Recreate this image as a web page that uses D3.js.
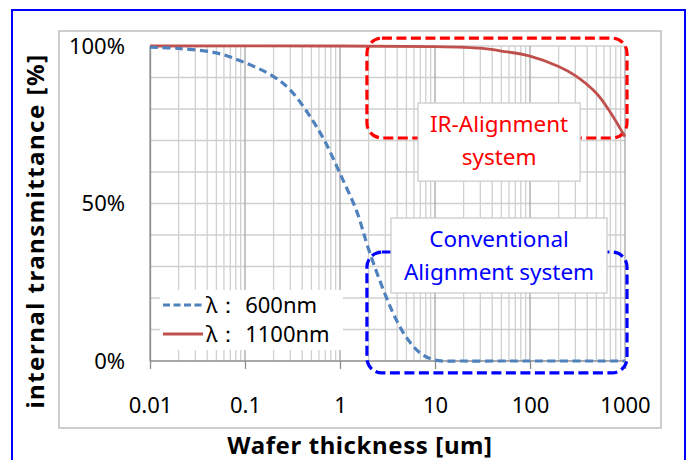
<!DOCTYPE html>
<html>
<head>
<meta charset="utf-8">
<script src="https://cdn.jsdelivr.net/npm/d3@7"></script>
<style>
  body { margin: 0; background: #fff; }
  svg text { font-family: "Noto Sans", "Open Sans", sans-serif; }
</style>
</head>
<body>
<div class="container"></div>
<script>
// data
var thickness600 = [0.01, 0.02, 0.05, 0.1, 0.2, 0.3, 0.5, 0.7, 1, 1.5, 2, 3, 4, 5, 7, 10, 20, 50, 100, 1000];
var trans600     = [99.6, 99.2, 97.8, 94.7, 90.3, 86, 77, 69.5, 59.5, 47.5, 35.5, 21, 12.5, 7.5, 2.5, 0.3, 0, 0, 0, 0];
var thickness1100 = [0.01, 1, 10, 20, 30, 50, 100, 200, 300, 500, 700, 1000];
var trans1100     = [100, 100, 99.8, 99.6, 99.3, 98.4, 96.8, 93.5, 90.6, 85, 79, 71.2];
var xTicks = [0.01, 0.1, 1, 10, 100, 1000];
var yTicks = [0, 50, 100];
var legendLabels = ["λ：  600nm", "λ：  1100nm"];

// margins / sizes
var width = 687, height = 460;
var plot = {left: 150, right: 625, top: 46, bottom: 361};

var x = d3.scaleLog().domain([0.01, 1000]).range([plot.left, plot.right]);
var y = d3.scaleLinear().domain([0, 100]).range([plot.bottom, plot.top]);

var svg = d3.select(".container").append("svg")
    .attr("width", width)
    .attr("height", height);

// outer blue frame and grey chart frame
svg.append("rect").attr("x", 12).attr("y", 10).attr("width", 673).attr("height", 470)
    .attr("fill", "#fff").attr("stroke", "#0000ff").attr("stroke-width", 2);
svg.append("rect").attr("x", 59).attr("y", 31).attr("width", 602).attr("height", 397)
    .attr("fill", "#fff").attr("stroke", "#bfbfbf").attr("stroke-width", 1.5);

// grid
var grid = svg.append("g").attr("class", "grid");
grid.selectAll(".hg").data(d3.range(10, 101, 10)).enter().append("line")
    .attr("x1", plot.left).attr("x2", plot.right)
    .attr("y1", function(d){ return y(d); }).attr("y2", function(d){ return y(d); })
    .attr("stroke", "#d0d0d0").attr("stroke-width", 1.3);
grid.selectAll(".vg").data(x.ticks()).enter().append("line")
    .attr("x1", function(d){ return x(d); }).attr("x2", function(d){ return x(d); })
    .attr("y1", plot.top).attr("y2", plot.bottom)
    .attr("stroke", function(d){ return xTicks.indexOf(+d.toPrecision(3)) >= 0 ? "#a6a6a6" : "#d0d0d0"; })
    .attr("stroke-width", 1.3);

// axes
var xAxis = d3.axisBottom(x).tickValues(xTicks).tickSize(8)
    .tickFormat(function(d){ return String(+d.toPrecision(3)); });
var gx = svg.append("g").attr("transform", "translate(0," + plot.bottom + ")").call(xAxis);
gx.select(".domain").attr("stroke", "#8c8c8c").attr("stroke-width", 1.3).attr("d", "M" + plot.left + ",0H" + plot.right);
gx.selectAll(".tick line").attr("stroke", "#8c8c8c").attr("stroke-width", 1.3);
gx.selectAll(".tick text").attr("y", 44).attr("dy", "0.35em")
    .style("font-size", "22px").attr("fill", "#000");

var yAxis = d3.axisLeft(y).tickValues(yTicks).tickSize(0)
    .tickFormat(function(d){ return d + "%"; });
var gy = svg.append("g").attr("transform", "translate(" + plot.left + ",0)").call(yAxis);
gy.select(".domain").attr("stroke", "#8c8c8c").attr("stroke-width", 1.3);
gy.selectAll(".tick text").attr("x", -25).style("font-size", "22px").attr("fill", "#000");

// dashed highlight boxes (in data units)
var hiBoxes = [
  {x0: 1.92, x1: 1050, y0: 102.5, y1: 70.8, color: "#ff0000"},
  {x0: 1.92, x1: 1050, y0: 34.6, y1: -3.8, color: "#0000ff"}
];
svg.selectAll(".hibox").data(hiBoxes).enter().append("rect")
    .attr("x", function(d){ return x(d.x0); })
    .attr("y", function(d){ return y(d.y0); })
    .attr("width", function(d){ return x(d.x1) - x(d.x0); })
    .attr("height", function(d){ return y(d.y1) - y(d.y0); })
    .attr("rx", 15).attr("ry", 15)
    .attr("fill", "none").attr("stroke", function(d){ return d.color; })
    .attr("stroke-width", 3.2).attr("stroke-dasharray", "10,4.5");

// curves
var line = d3.line()
    .x(function(d){ return x(d[0]); })
    .y(function(d){ return Math.min(y(d[1]), plot.bottom); })
    .curve(d3.curveCatmullRom.alpha(0.5));
svg.append("path").datum(d3.zip(thickness1100, trans1100))
    .attr("d", line).attr("fill", "none")
    .attr("stroke", "#c0504d").attr("stroke-width", 2.8);
svg.append("path").datum(d3.zip(thickness600, trans600))
    .attr("d", line).attr("fill", "none")
    .attr("stroke", "#4f81bd").attr("stroke-width", 3.2).attr("stroke-dasharray", "8,4.5");

// text call-outs
var notes = [
  {x0: 6.63, x1: 337, y0: 81.9, y1: 57.1, color: "#ff0000", lines: ["IR-Alignment", "system"], base: 132},
  {x0: 3.44, x1: 647, y0: 45.4, y1: 21.6, color: "#0000ff", lines: ["Conventional", "Alignment system"], base: 247}
];
var gn = svg.selectAll(".note").data(notes).enter().append("g");
gn.append("rect")
    .attr("x", function(d){ return x(d.x0); })
    .attr("y", function(d){ return y(d.y0); })
    .attr("width", function(d){ return x(d.x1) - x(d.x0); })
    .attr("height", function(d){ return y(d.y1) - y(d.y0); })
    .attr("fill", "#fff").attr("stroke", "#c8c8c8").attr("stroke-width", 1.2);
gn.each(function(d){
  var g = d3.select(this), cx = (x(d.x0) + x(d.x1)) / 2;
  d.lines.forEach(function(t, i){
    g.append("text").attr("x", cx).attr("y", d.base + i * 33)
      .attr("text-anchor", "middle").style("font-size", "22.5px")
      .attr("fill", d.color).text(t);
  });
});

// legend
var leg = svg.append("g").attr("transform", "translate(160,290)");
leg.append("rect").attr("width", 183).attr("height", 60).attr("fill", "#fff");
var legItems = [
  {label: legendLabels[0], color: "#4f81bd", dash: "7,3.5", w: 3.2},
  {label: legendLabels[1], color: "#c0504d", dash: null, w: 2.8}
];
legItems.forEach(function(d, i){
  var yy = 15 + i * 29;
  leg.append("line").attr("x1", 3).attr("x2", 43).attr("y1", yy).attr("y2", yy)
    .attr("stroke", d.color).attr("stroke-width", d.w).attr("stroke-dasharray", d.dash);
  leg.append("text").attr("x", 46).attr("y", yy).attr("dy", "0.36em")
    .style("font-size", "22px").attr("fill", "#000").text(d.label);
});

// axis titles
svg.append("text").attr("x", 360).attr("y", 445).attr("dy", "0.36em")
    .attr("text-anchor", "middle").style("font-size", "24px").style("font-weight", "bold")
    .style("letter-spacing", "0.6px").text("Wafer thickness [um]");
svg.append("text").attr("transform", "translate(35,231) rotate(-90)").attr("dy", "0.36em")
    .attr("text-anchor", "middle").style("font-size", "24px").style("font-weight", "bold")
    .style("letter-spacing", "1.5px").text("internal transmittance [%]");
</script>
</body>
</html>
